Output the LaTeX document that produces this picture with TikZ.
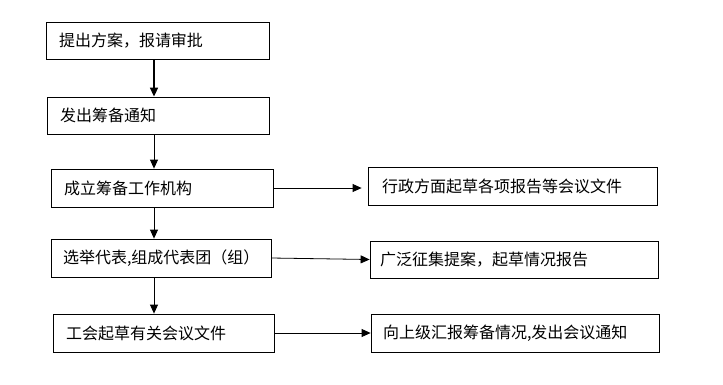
\documentclass[tikz,border=0pt]{standalone}
\usepackage{fontspec}
\setmainfont{Noto Sans CJK SC}
\usepackage{tikz}
\usetikzlibrary{arrows.meta, positioning, calc}

\begin{document}
\begin{tikzpicture}[x=1pt, y=-1pt,
        stufe/.style={rectangle, draw, line width=0.8pt, minimum height=37pt, inner xsep=13pt, align=left, font=\fontsize{16}{18}\selectfont},
        pfeil/.style={->, line width=0.8pt, >={Triangle[length=9pt, width=8pt]}}]
        \useasboundingbox (0,0) rectangle (723,384);
        \node[stufe, text width=197pt] (antrag) at (157.5,40.5) {提出方案，报请审批};
        \node[stufe, text width=196pt] (notice) at (158,115.5) {发出筹备通知};
        \node[stufe, text width=196pt, minimum height=38pt] (organ) at (162,188) {成立筹备工作机构};
        \node[stufe, text width=196pt, inner xsep=12pt, minimum height=38pt] (wahl) at (161,258) {选举代表,组成代表团（组）};
        \node[stufe, text width=195pt, minimum height=38pt] (draft) at (163.5,333) {工会起草有关会议文件};
        \node[stufe, text width=261pt, inner xsep=14pt, minimum height=38pt] (admin) at (512.5,186) {行政方面起草各项报告等会议文件};
        \node[stufe, text width=268pt, inner xsep=10pt] (collect) at (514,259.5) {广泛征集提案，起草情况报告};
        \node[stufe, text width=264pt, inner xsep=12pt, minimum height=38pt] (report) at (515,333) {向上级汇报筹备情况,发出会议通知};
        \coordinate (achse) at (154,0);
        \draw[pfeil, line width=1.6pt] (antrag.south -| achse) -- (notice.north -| achse);
        \draw[pfeil] (notice.south -| achse) -- (organ.north -| achse);
        \draw[pfeil] (organ.south -| achse) -- (wahl.north -| achse);
        \draw[pfeil] (wahl.south -| achse) -- (draft.north -| achse);
        \draw[pfeil, shorten >=6pt] (organ.east) -- (organ.east -| admin.west);
        \draw[pfeil] (wahl.east) -- (collect.west);
        \draw[pfeil] (draft.east) -- (draft.east -| report.west);
    \end{tikzpicture}
\end{document}
